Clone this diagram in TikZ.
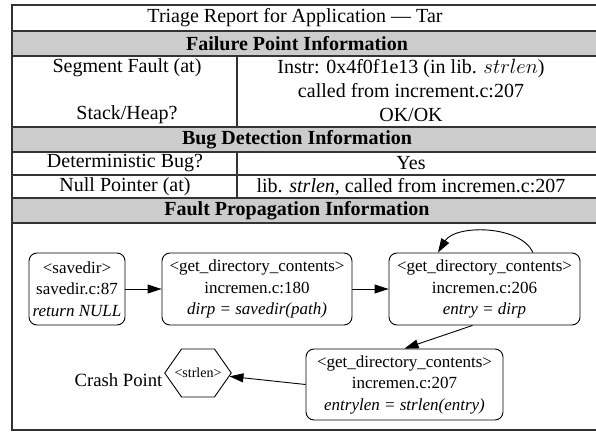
\documentclass[tikz,border=0pt]{standalone}
\usepackage{fontspec}
\setmainfont{Liberation Serif}
\usetikzlibrary{arrows.meta,shapes.symbols}
\begin{document}
\begin{tikzpicture}[x=1bp,y=-1bp,
  rule/.style={line width=1.3bp, draw=black!80},
  band/.style={fill=black!20},
  cell/.style={font=\fontsize{20bp}{24bp}\selectfont, inner sep=0pt},
  head/.style={font=\fontsize{20bp}{24bp}\selectfont\bfseries, inner sep=0pt},
  frame/.style={draw, rounded corners=8bp, line width=0.9bp, align=center,
                inner sep=0pt, font=\fontsize{17bp}{21.5bp}\selectfont},
  link/.style={line width=0.9bp, -{Triangle[length=14bp,width=9bp]}},
]
\clip (0,0) rectangle (596,433);

% header bands
\fill[band] (12,31) rectangle (600,56);
\fill[band] (12,127) rectangle (600,152);
\fill[band] (12,198) rectangle (600,223);

% table rules
\draw[rule] (600,5) -- (12,5) -- (12,430) -- (600,430);
\foreach \yy in {31,56,127,152,175,198,223}
  \draw[rule] (12,\yy) -- (600,\yy);
\draw[rule] (237,56) -- (237,127);
\draw[rule] (237,152) -- (237,198);

% table text
\node[cell] (title) at (295,18) {Triage Report for Application --- Tar};
\node[head] (h1) at (297,43.5) {Failure Point Information};
\node[cell] (segk) at (127,68) {Segment Fault (at)};
\node[cell] (segv) at (411,68) {Instr: 0x4f0f1e13 (in lib. $strlen$)};
\node[cell] (segv2) at (411,91) {called from increment.c:207};
\node[cell] (shk) at (127,114.5) {Stack/Heap?};
\node[cell] (shv) at (411,114.5) {OK/OK};
\node[head] (h2) at (297,139.5) {Bug Detection Information};
\node[cell] (dbk) at (125,163.5) {Deterministic Bug?};
\node[cell] (dbv) at (411,163.5) {Yes};
\node[cell] (npk) at (125,186.5) {Null Pointer (at)};
\node[cell] (npv) at (411,186.5) {lib. \textit{strlen}, called from incremen.c:207};
\node[head] (h3) at (297,210.5) {Fault Propagation Information};

% propagation graph
\node[frame, minimum width=96bp, minimum height=72bp] (sv) at (77,289)
  {<savedir>\\savedir.c:87\\\textit{return NULL}};
\node[frame, minimum width=190bp, minimum height=72bp] (g180) at (257,289)
  {<get\_directory\_contents>\\incremen.c:180\\\textit{dirp = savedir(path)}};
\node[frame, minimum width=191bp, minimum height=72bp] (g206) at (484.5,289)
  {<get\_directory\_contents>\\incremen.c:206\\\textit{entry = dirp}};
\node[frame, minimum width=197bp, minimum height=71bp] (g207) at (404.5,384.5)
  {<get\_directory\_contents>\\incremen.c:207\\\textit{entrylen = strlen(entry)}};
\node[draw, signal, signal to=west and east, signal pointer angle=110,
      minimum height=48bp, minimum width=0pt, inner xsep=-7bp, inner ysep=0pt,
      line width=0.9bp, font=\fontsize{14bp}{16bp}\selectfont] (hx) at (198,373) {<strlen>};
\node[font=\fontsize{18.7bp}{22bp}\selectfont, inner sep=0pt] (cp) at (118.5,380) {Crash Point};

\draw[link] (sv) -- (g180);
\draw[link] (g180) -- (g206);
\draw[link] ([xshift=48.5bp]g206.north)
  .. controls ([xshift=35.5bp,yshift=28bp]g206.north)
  and ([xshift=-29.5bp,yshift=28bp]g206.north) .. ([xshift=-46.5bp]g206.north);
\draw[link] ([xshift=-12bp]g206.south) -- (g207.north);
\draw[link] (g207.west) -- (hx);
\end{tikzpicture}
\end{document}
